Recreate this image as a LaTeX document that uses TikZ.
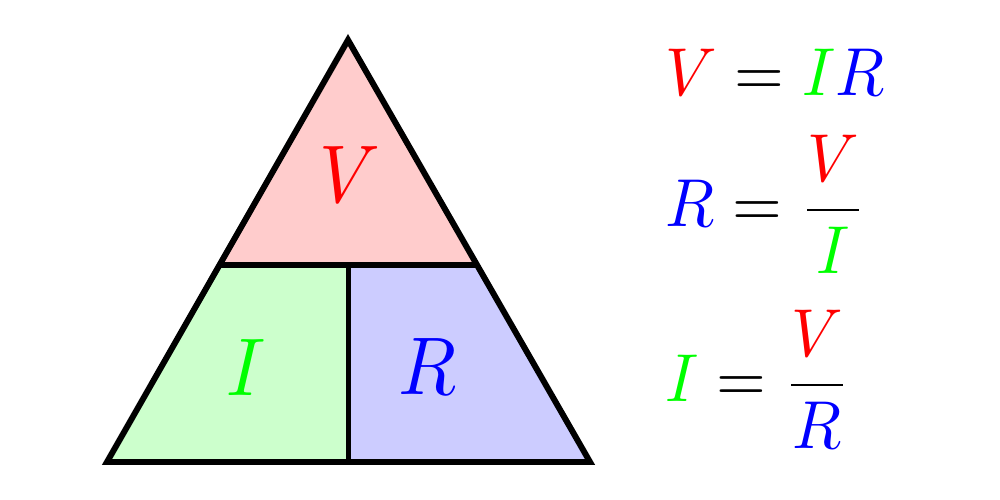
\documentclass[tikz,border=0pt]{standalone}
\usetikzlibrary{calc}
\tikzset{
  edge/.style={line width=1.7pt, line join=miter},
  big/.style={font=\fontsize{10pt}{12pt}\selectfont, xscale=2.15, yscale=2.33, transform shape, inner sep=0pt, anchor=base},
  eq/.style={font=\fontsize{10pt}{12pt}\selectfont, xscale=1.82, yscale=1.93, transform shape, inner sep=0pt, anchor=base west}
}
\begin{document}
\begin{tikzpicture}
\useasboundingbox (0,0) rectangle (10,5);
\coordinate (A) at (3.48,4.60);
\coordinate (BL) at (1.07,0.38);
\coordinate (BR) at (5.90,0.38);
\coordinate (ML) at ($(A)!0.5332!(BL)$);
\coordinate (MR) at ($(A)!0.5332!(BR)$);
\coordinate (MB) at ($(BL)!0.5!(BR)$);
\coordinate (MM) at (MB|-ML);
\fill[red!20] (A) -- (ML) -- (MR) -- cycle;
\fill[green!20] (ML) -- (MM) -- (MB) -- (BL) -- cycle;
\fill[blue!20] (MM) -- (MR) -- (BR) -- (MB) -- cycle;
\draw[edge] (A) -- (BL) -- (BR) -- cycle;
\draw[edge] (ML) -- (MR);
\draw[edge] (MM) -- (MB);
\node[big] (tv) at (3.50,2.97) {$\color{red}V$};
\node[big] (ti) at (2.46,1.04) {$\color{green}I$};
\node[big] (tr) at (4.27,1.05) {$\color{blue}R$};
\node[eq] (e1) at (6.64,4.04) {$\color{red}V\color{black} = \color{green}I\color{blue}R$};
\node[eq] (e2) at (6.64,2.73) {$\color{blue}R\color{black} = {\displaystyle\frac{\color{red}V}{\color{green}I}}$};
\node[eq] (e3) at (6.64,0.98) {$\color{green}I\color{black} = {\displaystyle\frac{\color{red}V}{\color{blue}R}}$};
\end{tikzpicture}
\end{document}
